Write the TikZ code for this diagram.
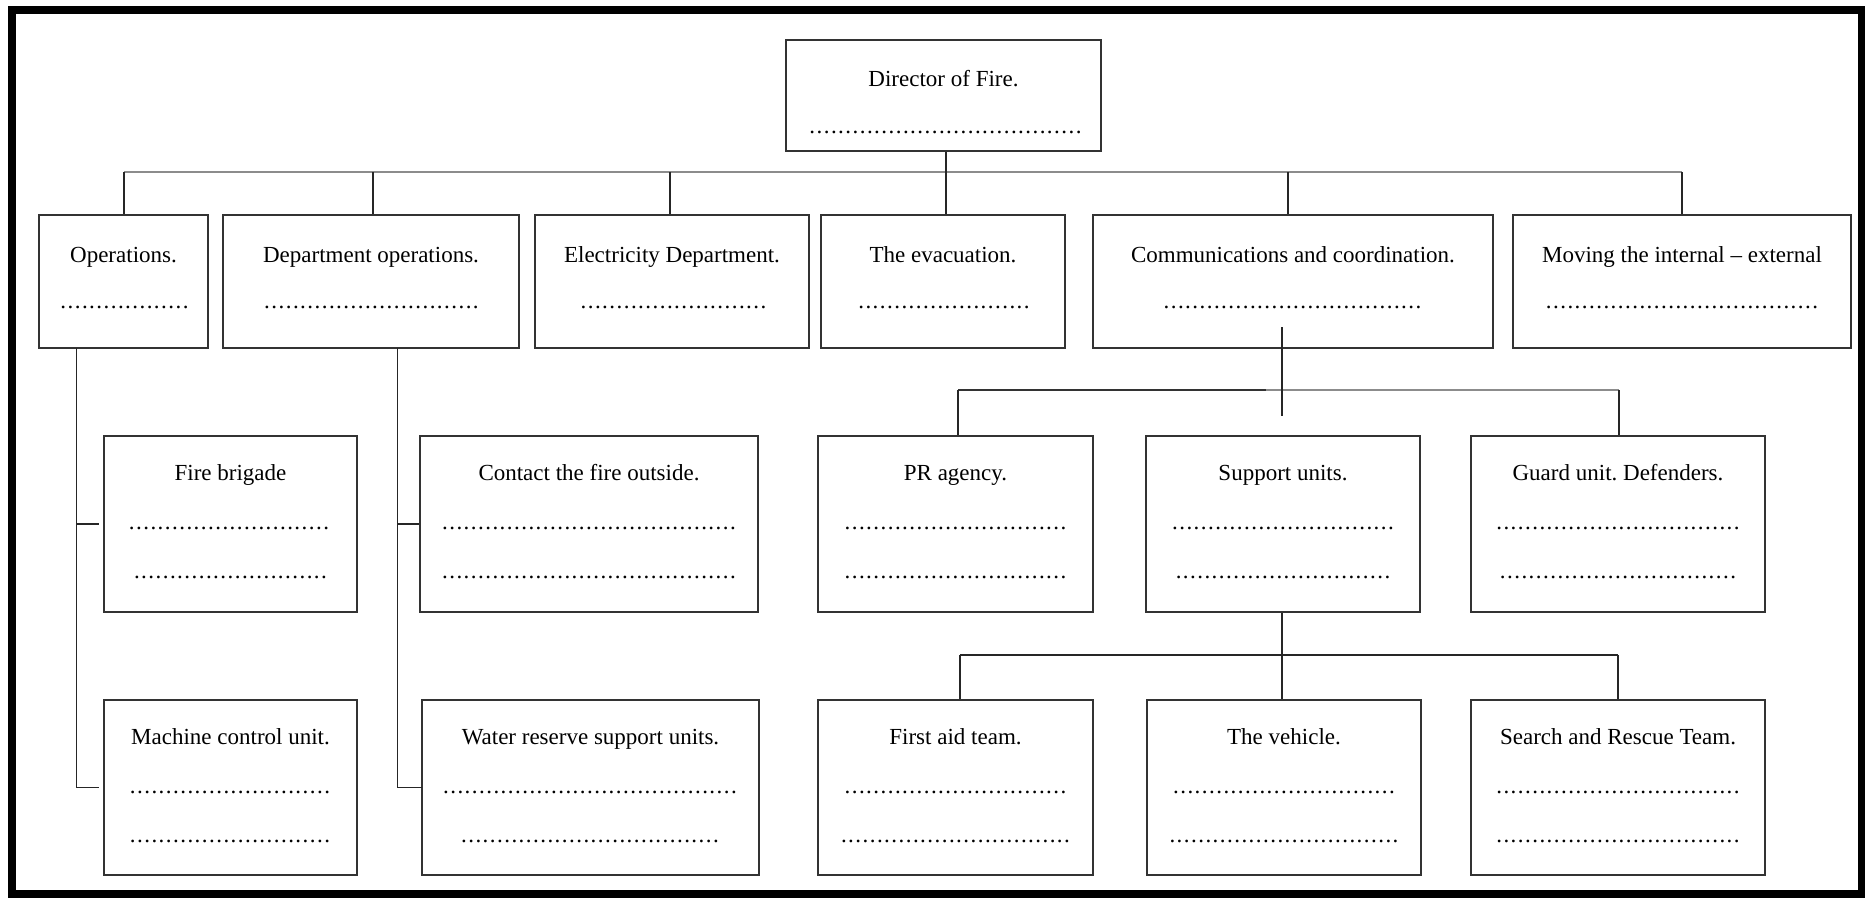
\documentclass[tikz,border=0pt]{standalone}
\usepackage{fontspec}
\setmainfont{Liberation Serif}
\newfontfamily\dotfont[LetterSpace=6.3]{Liberation Serif}
\ExplSyntaxOn
\cs_new:Npn \dotrow #1 { \prg_replicate:nn {#1} {.} }
\ExplSyntaxOff
\frenchspacing
\tikzset{
  orgbox/.style={draw=black!80, line width=1.8pt, inner sep=0pt, fill=white},
  ttl/.style={anchor=base, inner sep=0pt, font=\fontsize{23}{27}\selectfont},
  dts/.style={anchor=base, inner sep=0pt, font=\dotfont\fontsize{23}{27}\selectfont},
  conn/.style={draw=black!85, line width=1.5pt},
  bus/.style={draw=black!45, line width=2.6pt},
  frame/.style={draw=black, line width=8pt}
}
\begin{document}
\begin{tikzpicture}[x=1pt,y=-1pt]
\useasboundingbox (0,0) rectangle (1865,897);
\fill[white] (0,0) rectangle (1865,897);
\draw[frame] (12,10) rectangle (1861.5,893.5);

% ---------- boxes ----------
\node[orgbox, minimum width=315pt, minimum height=111pt] (dir) at (943.5,95.5) {};
% row 2
\node[orgbox, minimum width=169pt, minimum height=133pt] (ops) at (123.5,281.5) {};
\node[orgbox, minimum width=296pt, minimum height=133pt] (dep) at (371,281.5) {};
\node[orgbox, minimum width=274pt, minimum height=133pt] (ele) at (672,281.5) {};
\node[orgbox, minimum width=244pt, minimum height=133pt] (eva) at (943,281.5) {};
\node[orgbox, minimum width=400pt, minimum height=133pt] (com) at (1293,281.5) {};
\node[orgbox, minimum width=338pt, minimum height=133pt] (mov) at (1682,281.5) {};
% row 3
\node[orgbox, minimum width=253pt, minimum height=176pt] (fire) at (230.5,524) {};
\node[orgbox, minimum width=338pt, minimum height=176pt] (cont) at (589,524) {};
\node[orgbox, minimum width=275pt, minimum height=176pt] (pr) at (955.5,524) {};
\node[orgbox, minimum width=274pt, minimum height=176pt] (sup) at (1283,524) {};
\node[orgbox, minimum width=294pt, minimum height=176pt] (grd) at (1618,524) {};
% row 4
\node[orgbox, minimum width=253pt, minimum height=175pt] (mach) at (230.5,787.5) {};
\node[orgbox, minimum width=337pt, minimum height=175pt] (wat) at (590.5,787.5) {};
\node[orgbox, minimum width=275pt, minimum height=175pt] (fa) at (955.5,787.5) {};
\node[orgbox, minimum width=274pt, minimum height=175pt] (veh) at (1284,787.5) {};
\node[orgbox, minimum width=294pt, minimum height=175pt] (srch) at (1618,787.5) {};

% ---------- texts ----------
\node[ttl] (dirT) at (943.5,86) {Director of Fire.};
\node[dts] (dirD) at (945.5,133) {\dotrow{38}};

\node[ttl] (opsT) at (123.5,262) {Operations.};
\node[dts] (opsD) at (124.5,308) {\dotrow{18}};
\node[ttl] (depT) at (371,262) {Department operations.};
\node[dts] (depD) at (371.5,308) {\dotrow{30}};
\node[ttl] (eleT) at (672,262) {Electricity Department.};
\node[dts] (eleD) at (673.5,308) {\dotrow{26}};
\node[ttl] (evaT) at (943,262) {The evacuation.};
\node[dts] (evaD) at (944,308) {\dotrow{24}};
\node[ttl] (comT) at (1293,262) {Communications and coordination.};
\node[dts] (comD) at (1292.5,308) {\dotrow{36}};
\node[ttl] (movT) at (1682,262) {Moving the internal – external};
\node[dts] (movD) at (1682,308) {\dotrow{38}};

\node[ttl] (fireT) at (230.5,480) {Fire brigade};
\node[dts] (fireD1) at (229,529) {\dotrow{28}};
\node[dts] (fireD2) at (230.5,578) {\dotrow{27}};
\node[ttl] (contT) at (589,480) {Contact the fire outside.};
\node[dts] (contD1) at (589,529) {\dotrow{41}};
\node[dts] (contD2) at (589,578) {\dotrow{41}};
\node[ttl] (prT) at (955.5,480) {PR agency.};
\node[dts] (prD1) at (955.5,529) {\dotrow{31}};
\node[dts] (prD2) at (955.5,578) {\dotrow{31}};
\node[ttl] (supT) at (1283,480) {Support units.};
\node[dts] (supD1) at (1283,529) {\dotrow{31}};
\node[dts] (supD2) at (1283,578) {\dotrow{30}};
\node[ttl] (grdT) at (1618,480) {Guard unit. Defenders.};
\node[dts] (grdD1) at (1618,529) {\dotrow{34}};
\node[dts] (grdD2) at (1618,578) {\dotrow{33}};

\node[ttl] (machT) at (230.5,744) {Machine control unit.};
\node[dts] (machD1) at (230,793) {\dotrow{28}};
\node[dts] (machD2) at (230,842) {\dotrow{28}};
\node[ttl] (watT) at (590.5,744) {Water reserve support units.};
\node[dts] (watD1) at (590,793) {\dotrow{41}};
\node[dts] (watD2) at (590,842) {\dotrow{36}};
\node[ttl] (faT) at (955.5,744) {First aid team.};
\node[dts] (faD1) at (955.5,793) {\dotrow{31}};
\node[dts] (faD2) at (955.5,842) {\dotrow{32}};
\node[ttl] (vehT) at (1284,744) {The vehicle.};
\node[dts] (vehD1) at (1284,793) {\dotrow{31}};
\node[dts] (vehD2) at (1284,842) {\dotrow{32}};
\node[ttl] (srchT) at (1618,744) {Search and Rescue Team.};
\node[dts] (srchD1) at (1618,793) {\dotrow{34}};
\node[dts] (srchD2) at (1618,842) {\dotrow{34}};

% ---------- connectors ----------
\coordinate (b1) at (124,172);
\coordinate (b2) at (373,172);
\coordinate (b3) at (670,172);
\coordinate (b4) at (946,172);
\coordinate (b5) at (1288,172);
\coordinate (b6) at (1682,172);
\draw[bus] (b1) -- (b6);
\draw[conn] (b1) -- (b1 |- ops.north);
\draw[conn] (b2) -- (b2 |- dep.north);
\draw[conn] (b3) -- (b3 |- ele.north);
\draw[conn] (b4 |- dir.south) -- (b4 |- eva.north);
\draw[conn] (b5) -- (b5 |- com.north);
\draw[conn] (b6) -- (b6 |- mov.north);

% communications branch
\coordinate (c1) at (1282,327);
\coordinate (c2) at (1282,416);
\coordinate (cl) at (958,390);
\coordinate (cm) at (1266,390);
\coordinate (cr) at (1619,390);
\draw[conn, draw=black!80, line width=2pt] (cl) -- (cm);
\draw[bus, line width=2pt] (cm) -- (cr);
\draw[conn] (c1) -- (c2);
\draw[conn] (cl) -- (cl |- pr.north);
\draw[conn] (cr) -- (cr |- grd.north);

% support branch
\coordinate (s1) at (1282,655);
\coordinate (sl) at (960,655);
\coordinate (sr) at (1618,655);
\draw[conn, line width=2pt] (sl) -- (sr);
\draw[conn] (s1 |- sup.south) -- (s1 |- veh.north);
\draw[conn] (sl) -- (sl |- fa.north);
\draw[conn] (sr) -- (sr |- srch.north);

% operations branch
\coordinate (o1) at (76.5,348);
\coordinate (o2) at (76.5,524);
\coordinate (o3) at (76.5,787.5);
\coordinate (o2e) at (98.5,524);
\coordinate (o3e) at (98.5,787.5);
\draw[conn, line cap=rect] (o1 |- ops.south) -- (o3) -- (o3e);
\draw[conn] (o2) -- (o2e);

% department operations branch
\coordinate (d1) at (397.5,348);
\coordinate (d3) at (397.5,787.5);
\draw[conn, line cap=rect] (d1 |- dep.south) -- (d3) -- (wat.west |- d3);
\draw[conn] (d1 |- cont.west) -- (cont.west);
\end{tikzpicture}
\end{document}
